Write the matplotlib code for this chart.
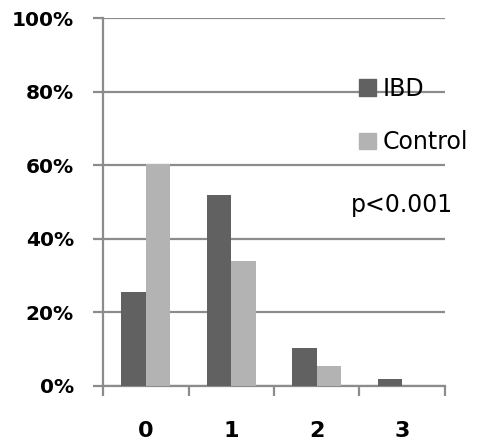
import numpy as np
import matplotlib
matplotlib.use("Agg")
import matplotlib.pyplot as plt
from matplotlib.patches import Patch
from matplotlib.ticker import FixedLocator, FuncFormatter

# ── Daten ─────────────────────────────────────────────────────────────────────
categories = ["0", "1", "2", "3"]
ibd        = [25.5, 51.9, 10.2, 1.9]
control    = [60.4, 33.9, 5.5, 0.0]
y_ticks    = [0, 20, 40, 60, 80, 100]
p_text     = "p<0.001"

c_ibd  = "#616161"
c_ctrl = "#b3b3b3"
c_grid = "#8c8c8c"

# ── Plot ──────────────────────────────────────────────────────────────────────
fig = plt.figure(figsize=(4.83, 4.47), dpi=100)
ax = fig.add_axes([0.2133, 0.1365, 0.708, 0.8232])

x = np.arange(len(categories))
w = 1 / 3.5
ax.bar(x - w / 2, ibd, width=w, color=c_ibd, label="IBD", zorder=3)
ax.bar(x + w / 2, control, width=w, color=c_ctrl, label="Control", zorder=3)

ax.set_xlim(-0.5, len(categories) - 0.5)
ax.set_ylim(0, 100)

ax.set_yticks(y_ticks)
ax.yaxis.set_major_formatter(FuncFormatter(lambda v, _: f"{v:.0f}%"))
ax.yaxis.grid(True, color=c_grid, lw=1.6, zorder=1)
ax.tick_params(axis="y", length=7, width=1.6, color=c_grid, pad=14,
               labelsize=14.5)
for lab in ax.get_yticklabels():
    lab.set_fontweight("bold")

ax.set_xticks(x)
ax.set_xticklabels(categories, fontsize=16, fontweight="bold")
ax.xaxis.set_minor_locator(FixedLocator(np.arange(-0.5, len(categories), 1.0)))
ax.tick_params(axis="x", which="major", length=0, pad=25)
ax.tick_params(axis="x", which="minor", length=7, width=1.6, color=c_grid)

for s in ["top", "right"]:
    ax.spines[s].set_visible(False)
for s in ["left", "bottom"]:
    ax.spines[s].set_color(c_grid)
    ax.spines[s].set_linewidth(1.6)

handles = [Patch(color=c_ibd, label="IBD"), Patch(color=c_ctrl, label="Control")]
ax.legend(handles=handles, loc="upper left", bbox_to_anchor=(0.72, 0.866),
          frameon=False, fontsize=17, handlelength=0.72, handleheight=0.72,
          handletextpad=0.3, labelspacing=1.25, borderaxespad=0)
ax.text(0.725, 0.492, p_text, transform=ax.transAxes, fontsize=17,
        ha="left", va="center")

fig.savefig("out.png", dpi=100)
plt.close(fig)
